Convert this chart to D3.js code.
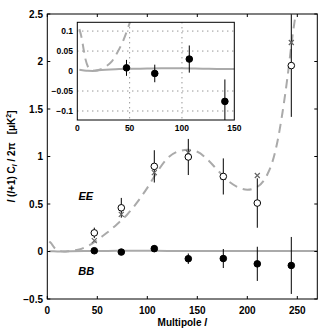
<!DOCTYPE html>
<html><head><meta charset="utf-8">
<script src="https://cdn.jsdelivr.net/npm/d3@7"></script>
<style>
body{margin:0;background:#fff;}
text{font-family:"Liberation Sans",Arial,sans-serif;font-weight:bold;}
</style></head>
<body><svg id="c" width="327" height="332"></svg>
<script>
// ---- data ----
const binL = [47, 74, 107, 141, 176, 210, 244];
const eeVal = [0.196, 0.46, 0.896, 0.995, 0.79, 0.51, 1.957];
const eeErr = [0.055, 0.104, 0.17, 0.19, 0.19, 0.26, 0.54];
const eeAlt = [0.115, 0.39, 0.83, 1.04, 0.78, 0.80, 2.2];
const bbVal = [0.008, -0.006, 0.030, -0.076, -0.074, -0.13, -0.147];
const bbErr = [0.020, 0.022, 0.034, 0.055, 0.10, 0.18, 0.30];
const eeTheoryL = [2,4,6,8,10,13,17,22,27,33,38,44,50,55,60,70,80,90,100,110,120,130,140,150,160,170,180,190,200,210,220,225,230,235,240,245,250,255];
const eeTheory  = [0.105,0.085,0.055,0.028,0.012,0.004,0.001,0.004,0.011,0.024,0.045,0.077,0.12,0.16,0.2,0.29,0.39,0.52,0.67,0.84,0.98,1.05,1.07,1.05,0.97,0.86,0.75,0.68,0.65,0.68,0.81,0.94,1.15,1.45,1.82,2.25,2.62,3.0];
const bbTheoryL = [2,5,10,15,20,40,60,80,100,120,150,200,270];
const bbTheory  = [0.003,0.002,0.0005,0.0003,0.002,0.005,0.006,0.007,0.007,0.006,0.005,0.005,0.006];
const xTicks = [0, 50, 100, 150, 200, 250];
const yTicks = [-0.5, 0, 0.5, 1, 1.5, 2, 2.5];
const insetXTicks = [0, 50, 100, 150];
const insetYTicks = [-0.1, -0.05, 0, 0.05, 0.1];

const fmt = v => (v < 0 ? "\u2212" : "") + String(Math.abs(v));
const svg = d3.select("#c");

// ---- main axes ----
const x = d3.scaleLinear().domain([0, 270]).range([47.3, 317.3]);
const y = d3.scaleLinear().domain([-0.5, 2.5]).range([299, 14]);
svg.append("clipPath").attr("id","mclip").append("rect")
  .attr("x",47.3).attr("y",14).attr("width",270).attr("height",285);
const main = svg.append("g").attr("clip-path","url(#mclip)");

const eeLine = d3.line().x((d,i)=>x(eeTheoryL[i])).y(d=>y(d)).curve(d3.curveMonotoneX);
const bbLine = d3.line().x((d,i)=>x(bbTheoryL[i])).y(d=>y(d)).curve(d3.curveMonotoneX);
main.append("path").attr("d", bbLine(bbTheory)).attr("fill","none")
  .attr("stroke","#aaa").attr("stroke-width",2);
main.append("path").attr("d", eeLine(eeTheory)).attr("fill","none")
  .attr("stroke","#aaa").attr("stroke-width",2).attr("stroke-dasharray","9,6");

function drawPoints(g, xs, ys, vals, errs, filled){
  g.selectAll(null).data(vals).enter().append("line")
    .attr("x1",(d,i)=>xs(binL[i])).attr("x2",(d,i)=>xs(binL[i]))
    .attr("y1",(d,i)=>ys(d+errs[i])).attr("y2",(d,i)=>ys(d-errs[i]))
    .attr("stroke","#000").attr("stroke-width",1);
  g.selectAll(null).data(vals).enter().append("circle")
    .attr("cx",(d,i)=>xs(binL[i])).attr("cy",d=>ys(d)).attr("r",3.3)
    .attr("fill",filled?"#000":"#fff").attr("stroke","#000").attr("stroke-width",1);
}
// EE error bars
main.selectAll(null).data(eeVal).enter().append("line")
  .attr("x1",(d,i)=>x(binL[i])).attr("x2",(d,i)=>x(binL[i]))
  .attr("y1",(d,i)=>y(d+eeErr[i])).attr("y2",(d,i)=>y(d-eeErr[i]))
  .attr("stroke","#000").attr("stroke-width",1);
// EE alt (x markers)
const xm = main.selectAll(null).data(eeAlt).enter().append("path")
  .attr("d",(d,i)=>{const cx=x(binL[i]), cy=y(d), s=2.5;
    return `M${cx-s},${cy-s}L${cx+s},${cy+s}M${cx-s},${cy+s}L${cx+s},${cy-s}`;})
  .attr("stroke","#666").attr("stroke-width",1.2).attr("fill","none");
main.selectAll(null).data(eeVal).enter().append("circle")
  .attr("cx",(d,i)=>x(binL[i])).attr("cy",d=>y(d)).attr("r",3.3)
  .attr("fill","#fff").attr("stroke","#000").attr("stroke-width",1);
drawPoints(main, x, y, bbVal, bbErr, true);

// labels EE / BB
svg.append("text").attr("x",x(38.5)).attr("y",y(0.54)).attr("text-anchor","middle")
  .attr("font-size",11).attr("font-style","italic").text("EE");
svg.append("text").attr("x",x(39)).attr("y",y(-0.25)).attr("text-anchor","middle")
  .attr("font-size",11).attr("font-style","italic").text("BB");

// frame & ticks
const axG = svg.append("g").attr("font-size",10);
axG.append("rect").attr("x",47.3).attr("y",14).attr("width",270).attr("height",285)
  .attr("fill","none").attr("stroke","#000").attr("stroke-width",1);
xTicks.forEach(t=>{
  axG.append("line").attr("x1",x(t)).attr("x2",x(t)).attr("y1",299).attr("y2",296).attr("stroke","#000");
  axG.append("line").attr("x1",x(t)).attr("x2",x(t)).attr("y1",14).attr("y2",17).attr("stroke","#000");
  axG.append("text").attr("x",x(t)).attr("y",314).attr("text-anchor","middle").text(t);
});
yTicks.forEach(t=>{
  axG.append("line").attr("x1",47.3).attr("x2",50.3).attr("y1",y(t)).attr("y2",y(t)).attr("stroke","#000");
  axG.append("line").attr("x1",317.3).attr("x2",314.3).attr("y1",y(t)).attr("y2",y(t)).attr("stroke","#000");
  axG.append("text").attr("x",43).attr("y",y(t)+3.5).attr("text-anchor","end").text(fmt(t));
});
axG.append("text").attr("x",182.3).attr("y",326).attr("text-anchor","middle")
  .html('Multipole <tspan font-style="italic">l</tspan>');
axG.append("text").attr("transform","translate(14.5,156.5) rotate(-90)").attr("text-anchor","middle")
  .html('<tspan font-style="italic">l</tspan> (<tspan font-style="italic">l</tspan>+1) C<tspan font-size="7" dy="2" font-style="italic">l</tspan><tspan dy="-2"> / 2\u03c0 \u00a0 [\u03bcK</tspan><tspan font-size="7" dy="-4">2</tspan><tspan dy="4">]</tspan>');

// ---- inset ----
const ix = d3.scaleLinear().domain([0,150]).range([77.3,234.3]);
const iy = d3.scaleLinear().domain([-0.1225,0.122]).range([120,22.3]);
const ins = svg.append("g");
ins.append("rect").attr("x",77.3).attr("y",22.3).attr("width",157).attr("height",97.7).attr("fill","#fff");
svg.append("clipPath").attr("id","iclip").append("rect")
  .attr("x",77.3).attr("y",22.3).attr("width",157).attr("height",97.7);
const ic = ins.append("g").attr("clip-path","url(#iclip)");
insetYTicks.filter(t=>t!==0).forEach(t=>{
  ic.append("line").attr("x1",77.3).attr("x2",234.3).attr("y1",iy(t)).attr("y2",iy(t))
    .attr("stroke","#444").attr("stroke-width",0.8).attr("stroke-dasharray","1,4");
});
insetXTicks.filter(t=>t>0&&t<150).forEach(t=>{
  ic.append("line").attr("x1",ix(t)).attr("x2",ix(t)).attr("y1",22.3).attr("y2",120)
    .attr("stroke","#444").attr("stroke-width",0.8).attr("stroke-dasharray","1,4");
});
const ieLine = d3.line().x((d,i)=>ix(eeTheoryL[i])).y(d=>iy(d)).curve(d3.curveMonotoneX);
const ibLine = d3.line().x((d,i)=>ix(bbTheoryL[i])).y(d=>iy(d)).curve(d3.curveMonotoneX);
ic.append("path").attr("d", ibLine(bbTheory)).attr("fill","none").attr("stroke","#aaa").attr("stroke-width",2);
ic.append("path").attr("d", ieLine(eeTheory)).attr("fill","none").attr("stroke","#aaa")
  .attr("stroke-width",2).attr("stroke-dasharray","9,6");
drawPoints(ic, ix, iy, bbVal, bbErr, true);
ins.append("rect").attr("x",77.3).attr("y",22.3).attr("width",157).attr("height",97.7)
  .attr("fill","none").attr("stroke","#000").attr("stroke-width",1);
insetYTicks.forEach(t=>{
  ins.append("text").attr("x",73).attr("y",iy(t)+3).attr("text-anchor","end").attr("font-size",8.5).text(fmt(t));
});
insetXTicks.forEach(t=>{
  ins.append("text").attr("x",ix(t)).attr("y",131).attr("text-anchor","middle").attr("font-size",8.5).text(t);
});
</script></body></html>
